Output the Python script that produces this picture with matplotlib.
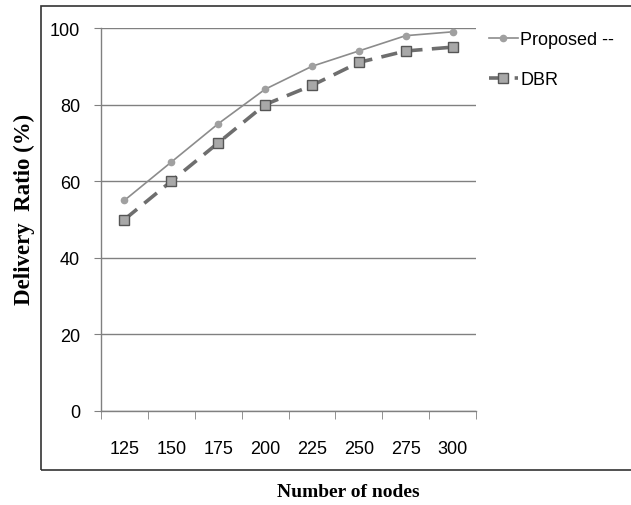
import matplotlib.pyplot as plt
import matplotlib.patches as patches
import numpy as np

# data
nodes = ["125", "150", "175", "200", "225", "250", "275", "300"]
proposed = [55, 65, 75, 84, 90, 94, 98, 99]
dbr = [50, 60, 70, 80, 85, 91, 94, 95]
y_ticks = [0, 20, 40, 60, 80, 100]

W, H = 631, 506
fig = plt.figure(figsize=(W / 100, H / 100), dpi=100)

tick_font = ["Liberation Sans", "DejaVu Sans"]
label_font = ["Liberation Serif", "DejaVu Serif"]

# outer chart border (Excel-style), runs off the right edge
fig.add_artist(patches.Rectangle((41 / W, 1 - 471 / H), 1.0, (471 - 7) / H,
                                 transform=fig.transFigure, fill=False,
                                 edgecolor="#333333", linewidth=1.2))

ax = fig.add_axes([101 / W, 1 - 412 / H, (476 - 101) / W, (412 - 29) / H])
x = np.arange(len(nodes))

ax.plot(x, proposed, color="#8c8c8c", linewidth=1.2, marker="o",
        markersize=4.5, markerfacecolor="#a0a0a0", markeredgecolor="#a0a0a0",
        label="Proposed --", zorder=4)
ax.plot(x, dbr, color="#6e6e6e", linewidth=2.6, linestyle=(0, (4.5, 2.6)),
        marker="s", markersize=7, markerfacecolor="#a8a8a8",
        markeredgecolor="#555555", markeredgewidth=1.0, label="DBR", zorder=4)

ax.set_xlim(-0.5, len(nodes) - 0.5)
ax.set_ylim(0, 100)
ax.set_yticks(y_ticks)
ax.set_yticklabels([str(v) for v in y_ticks], fontsize=13, family=tick_font)
ax.set_xticks(x)
ax.set_xticklabels(nodes, fontsize=13, family=tick_font)
ax.set_xticks(np.arange(len(nodes) + 1) - 0.5, minor=True)
ax.tick_params(axis="x", which="major", length=0, pad=21)
ax.tick_params(axis="x", which="minor", length=6, color="#808080",
               direction="out")
ax.tick_params(axis="y", length=5, color="#808080", pad=10)

ax.grid(axis="y", color="#808080", linewidth=1.0)
ax.set_axisbelow(True)
for side in ("top", "right"):
    ax.spines[side].set_visible(False)
for side in ("left", "bottom"):
    ax.spines[side].set_color("#808080")
    ax.spines[side].set_linewidth(1.0)

fig.text(24 / W, 1 - 209 / H, "Delivery  Ratio (%)", rotation=90,
         ha="center", va="center", fontsize=16.5, fontweight="bold",
         family=label_font)
fig.text(348 / W, 1 - 493 / H, "Number of nodes", ha="center", va="center",
         fontsize=14, fontweight="bold", family=label_font)

ax.legend(loc="upper left", bbox_to_anchor=(1.015, 1.01), frameon=False,
          prop={"family": tick_font, "size": 13}, handlelength=1.6,
          handletextpad=0.15, labelspacing=1.25, borderaxespad=0)

fig.savefig("out.png", dpi=100)
